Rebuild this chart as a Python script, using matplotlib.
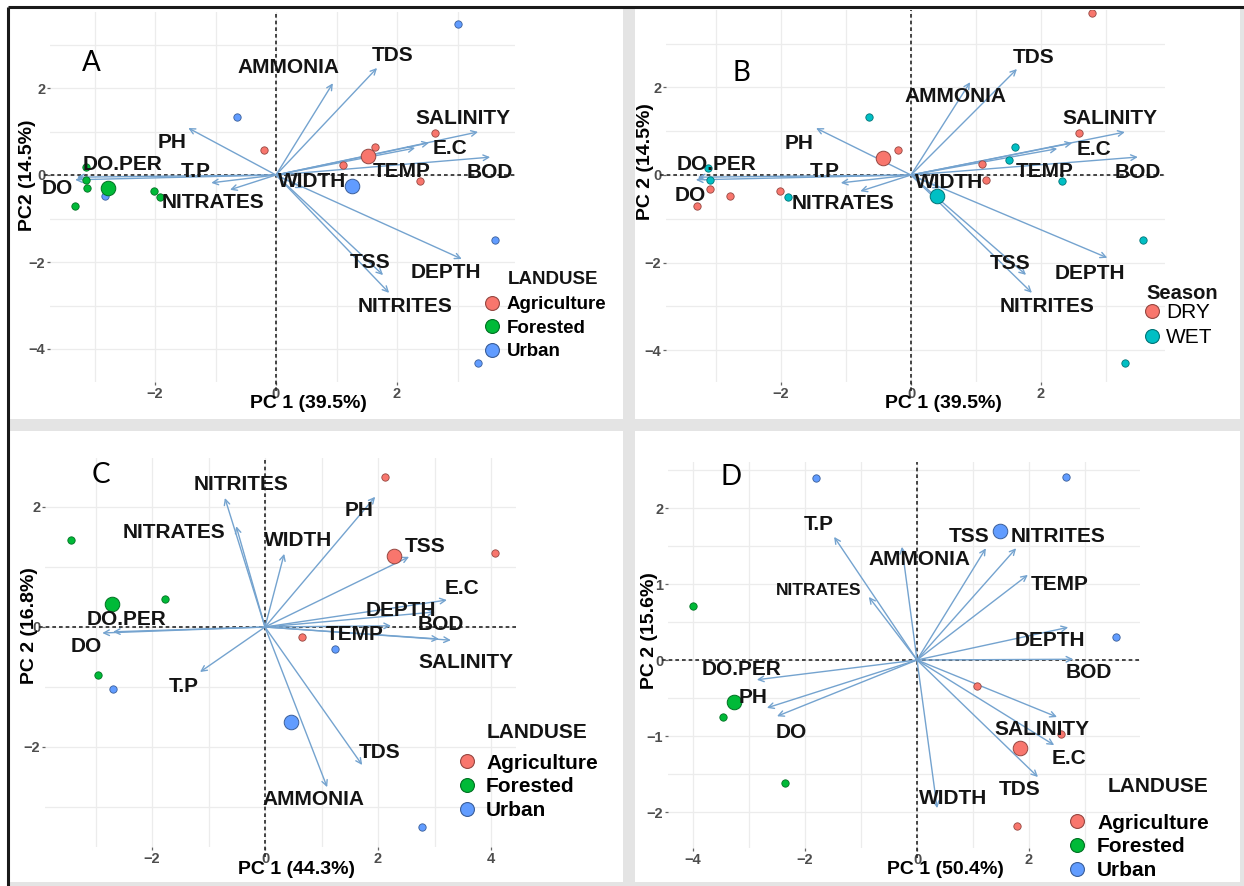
import matplotlib
matplotlib.use('Agg')
import matplotlib.pyplot as plt
import matplotlib.colors as mcolors
from matplotlib.lines import Line2D
from matplotlib.patches import Rectangle
import numpy as np

W, H = 1244, 886

# ---------------------------------------------------------------------------
# Loadings (arrow tips) and scores, one block per biplot
# ---------------------------------------------------------------------------
variables = ["AMMONIA", "TDS", "SALINITY", "E.C", "TEMP", "BOD", "WIDTH", "DEPTH",
             "TSS", "NITRITES", "PH", "T.P", "NITRATES", "DO", "DO.PER"]

# A : land use, PC1 x PC2
a_pc1 = [0.94, 1.67, 3.34, 2.53, 2.30, 3.54, 0.45, 3.07, 1.77, 1.87, -1.45, -1.07, -0.76, -3.32, -3.29]
a_pc2 = [2.11, 2.46, 0.99, 0.74, 0.62, 0.41, -0.30, -1.93, -2.30, -2.71, 1.08, -0.18, -0.34, -0.11, -0.05]
a_lab1 = [0.20, 1.93, 3.09, 2.88, 2.07, 3.54, 0.60, 2.81, 1.55, 2.13, -1.72, -1.32, -1.04, -3.62, -2.53]
a_lab2 = [2.46, 2.74, 1.29, 0.62, 0.07, 0.05, -0.16, -2.25, -2.02, -3.03, 0.74, 0.07, -0.64, -0.30, 0.23]
a_agri_x = [-0.20, 2.63, 1.64, 1.11, 2.38]
a_agri_y = [0.57, 0.97, 0.64, 0.23, -0.14]
a_fore_x = [-3.14, -3.14, -3.12, -3.32, -2.02, -1.92]
a_fore_y = [0.18, -0.11, -0.30, -0.71, -0.37, -0.51]
a_urb_x = [3.01, -0.64, -2.83, 3.62, 3.34]
a_urb_y = [3.47, 1.33, -0.48, -1.49, -4.32]
a_means = [(1.52, 0.44), (-2.78, -0.30), (1.26, -0.25)]

# B : season, PC1 x PC2
b_pc1 = [0.91, 1.63, 3.29, 2.48, 2.25, 3.49, 0.45, 3.02, 1.77, 1.86, -1.46, -1.08, -0.78, -3.31, -3.28]
b_pc2 = [2.12, 2.42, 0.98, 0.73, 0.60, 0.41, -0.30, -1.89, -2.28, -2.69, 1.07, -0.18, -0.37, -0.11, -0.05]
b_lab1 = [0.68, 1.89, 3.06, 2.82, 2.05, 3.49, 0.58, 2.75, 1.52, 2.09, -1.72, -1.32, -1.05, -3.40, -3.00]
b_lab2 = [1.80, 2.69, 1.30, 0.59, 0.07, 0.05, -0.16, -2.24, -2.03, -3.01, 0.73, 0.07, -0.64, -0.46, 0.23]
b_dry_x = [2.78, -0.20, 2.58, 1.09, 1.15, -3.09, -3.29, -2.78, -2.02]
b_dry_y = [3.70, 0.57, 0.96, 0.25, -0.11, -0.32, -0.71, -0.48, -0.37]
b_wet_x = [-0.65, 1.60, 1.51, 2.32, 3.57, 3.29, -3.12, -3.09, -1.89]
b_wet_y = [1.32, 0.64, 0.34, -0.14, -1.48, -4.29, 0.16, -0.11, -0.50]
b_means = [(-0.43, 0.39), (0.40, -0.48)]

# C : land use, second data set
c_pc1 = [1.10, 1.72, 3.29, 3.22, 2.23, 3.08, 0.34, 3.01, 2.55, -0.71, 1.95, -1.15, -0.51, -2.88, -2.69]
c_pc2 = [-2.67, -2.30, -0.22, 0.45, 0.02, -0.20, 1.22, 0.25, 1.17, 2.15, 2.17, -0.75, 1.68, -0.10, -0.08]
c_lab1 = [0.85, 2.02, 3.56, 3.49, 1.58, 3.12, 0.58, 2.41, 2.83, -0.42, 1.66, -1.43, -1.61, -3.17, -2.46]
c_lab2 = [-2.88, -2.10, -0.60, 0.65, -0.12, 0.05, 1.45, 0.27, 1.35, 2.37, 1.95, -1.00, 1.58, -0.33, 0.12]
c_agri_x = [2.12, 4.07, 0.65]
c_agri_y = [2.50, 1.23, -0.17]
c_fore_x = [-3.43, -1.77, -2.96]
c_fore_y = [1.45, 0.47, -0.80]
c_urb_x = [1.24, -2.69, 2.78]
c_urb_y = [-0.37, -1.03, -3.33]
c_means = [(2.28, 1.18), (-2.71, 0.38), (0.46, -1.58)]

# D : land use, third data set
d_pc1 = [-0.27, 2.16, 2.50, 2.45, 1.98, 2.79, 0.36, 2.70, 1.23, 1.77, -2.68, -1.48, -0.86, -2.50, -2.86]
d_pc2 = [1.49, -1.54, -0.75, -1.12, 1.12, 0.01, -1.95, 0.43, 1.47, 1.47, -0.63, 1.62, 0.83, -0.74, -0.26]
d_lab1 = [0.05, 1.84, 2.23, 2.71, 2.55, 3.07, 0.64, 2.38, 0.93, 2.52, -2.93, -1.75, -1.75, -2.25, -3.13]
d_lab2 = [1.32, -1.71, -0.91, -1.29, 1.00, -0.17, -1.82, 0.25, 1.62, 1.62, -0.49, 1.78, 0.92, -0.96, -0.12]
d_agri_x = [1.07, 2.57, 1.79]
d_agri_y = [-0.34, -0.97, -2.18]
d_fore_x = [-4.00, -3.46, -2.36]
d_fore_y = [0.71, -0.75, -1.62]
d_urb_x = [-1.80, 2.66, 3.55]
d_urb_y = [2.39, 2.41, 0.30]
d_means = [(1.84, -1.16), (-3.27, -0.55), (1.48, 1.70)]

landuse = ["Agriculture", "Forested", "Urban"]
season = ["DRY", "WET"]

# ---------------------------------------------------------------------------
# Styles
# ---------------------------------------------------------------------------
AGRI, FORE, URB = '#F8766D', '#00BA38', '#619CFF'
DRY, WET = '#F8766D', '#00BFC4'
ARROW = '#74a3cf'
GRID = '#ececec'
BAND = '#e4e4e4'
FONT = 'Liberation Sans'


def darker(c, f=0.6):
    r, g, b = mcolors.to_rgb(c)
    return (r * f, g * f, b * f)


fig = plt.figure(figsize=(W / 100, H / 100), dpi=100)
fig.patch.set_facecolor('white')

# background: black frame edges and grey separators between the four plots
bg = fig.add_axes([0, 0, 1, 1])
bg.set_xlim(0, W)
bg.set_ylim(H, 0)
bg.axis('off')
for x, y, w, h in [(623, 8, 12, H), (9, 419, W, 12), (1240, 8, 4, H), (9, 882, W, 4)]:
    bg.add_patch(Rectangle((x, y), w, h, color=BAND, lw=0))
bg.plot([8, 8], [7, H], color='#1a1a1a', lw=2.2, solid_capstyle='butt')
bg.plot([8, W], [7, 7], color='#1a1a1a', lw=2.2, solid_capstyle='butt')


def biplot(box, x0, sx, y0, sy, xticks, yticks, xgrid, ygrid,
           pc1, pc2, lab1, lab2, groups, means, colors, names,
           xlabel, ylabel, xlab_px, ylab_px, title, title_px, title_size,
           leg_px, leg_size, leg_pad, leg_space, leg_weight, letter, letter_px,
           small_labels=()):
    l, t, r, b = box
    ax = fig.add_axes([l / W, 1 - b / H, (r - l) / W, (b - t) / H])
    ax.set_facecolor('none')
    ax.set_xlim((l - x0) / sx, (r - x0) / sx)
    ax.set_ylim((y0 - b) / sy, (y0 - t) / sy)
    for s in ax.spines.values():
        s.set_visible(False)

    ax.set_xticks(xticks)
    ax.set_yticks(yticks)
    ax.set_xticks(xgrid, minor=True)
    ax.set_yticks(ygrid, minor=True)
    ax.grid(True, which='both', color=GRID, lw=0.9, zorder=0)
    ax.set_axisbelow(True)
    ax.tick_params(which='minor', length=0)
    ax.tick_params(which='major', length=2.5, width=0.9, color='#666666',
                   labelcolor='#4d4d4d', labelsize=10.5, pad=1)
    for tl in ax.get_xticklabels() + ax.get_yticklabels():
        tl.set_fontweight('bold')
        tl.set_family(FONT)

    # zero reference lines
    ax.axhline(0, xmin=-0.012, xmax=1, color='#262626', lw=1.2,
               ls=(0, (2.2, 1.8)), clip_on=False, zorder=1)
    ax.axvline(0, ymin=-0.025, ymax=1, color='#262626', lw=1.2,
               ls=(0, (2.2, 1.8)), clip_on=False, zorder=1)

    # group scores and group means
    for (gx, gy), col in zip(groups, colors):
        ax.scatter(gx, gy, s=28, color=col, edgecolors=[darker(col)],
                   linewidths=0.6, zorder=3)
    for (mx, my), col in zip(means, colors):
        ax.scatter(mx, my, s=110, color=col, edgecolors=[darker(col)],
                   linewidths=0.7, zorder=3)

    # variable loadings
    for x, y in zip(pc1, pc2):
        ax.annotate('', xy=(x, y), xytext=(0, 0),
                    arrowprops=dict(arrowstyle='->,head_length=0.4,head_width=0.2',
                                    color=ARROW, lw=1.0, shrinkA=0, shrinkB=0),
                    zorder=2)
    for name, x, y in zip(variables, lab1, lab2):
        ax.text(x, y, name, ha='center', va='center', family=FONT,
                fontsize=12.5 if name in small_labels else 15,
                fontweight='bold', color='#141414', zorder=4)

    ax.set_xlabel(xlabel, family=FONT, fontsize=14, fontweight='bold',
                  ha='center', va='center')
    ax.set_ylabel(ylabel, family=FONT, fontsize=14, fontweight='bold',
                  ha='center', va='center', rotation=90)
    ax.xaxis.set_label_coords((xlab_px[0] - l) / (r - l), (b - xlab_px[1]) / (b - t))
    ax.yaxis.set_label_coords((ylab_px[0] - l) / (r - l), (b - ylab_px[1]) / (b - t))

    handles = [Line2D([0], [0], marker='o', ls='', markersize=10,
                      markerfacecolor=c, markeredgecolor=darker(c),
                      markeredgewidth=0.8) for c in colors]
    ax.legend(handles, names, loc='center left',
              bbox_to_anchor=(leg_px[0] / W, 1 - leg_px[1] / H),
              bbox_transform=fig.transFigure, frameon=False,
              borderpad=0, borderaxespad=0, handlelength=0.8,
              handletextpad=leg_pad, labelspacing=leg_space,
              prop={'family': FONT, 'size': leg_size, 'weight': leg_weight})
    fig.text(title_px[0] / W, 1 - title_px[1] / H, title, ha='center', va='center',
             family=FONT, fontsize=title_size, fontweight='bold', color='#141414')
    fig.text(letter_px[0] / W, 1 - letter_px[1] / H, letter, ha='center', va='center',
             family='Lato', fontsize=20, color='black')
    return ax


biplot((50, 12, 515, 382), 276, 60.5, 175, 43.5,
       [-2, 0, 2], [-4, -2, 0, 2], np.arange(-3, 4), np.arange(-4, 4),
       a_pc1, a_pc2, a_lab1, a_lab2,
       [(a_agri_x, a_agri_y), (a_fore_x, a_fore_y), (a_urb_x, a_urb_y)],
       a_means, [AGRI, FORE, URB], landuse,
       "PC 1 (39.5%)", "PC2 (14.5%)", (308, 404), (28, 175),
       "LANDUSE", (553, 280), 13.5, (484, 328), 13.5, 0.4, 0.34, 'bold',
       "A", (91, 63))

biplot((666, 10, 1165, 382), 911, 65, 175, 43.8,
       [-2, 0, 2], [-4, -2, 0, 2], np.arange(-3, 4), np.arange(-4, 4),
       b_pc1, b_pc2, b_lab1, b_lab2,
       [(b_dry_x, b_dry_y), (b_wet_x, b_wet_y)],
       b_means, [DRY, WET], season,
       "PC 1 (39.5%)", "PC 2 (14.5%)", (943, 404), (646, 162),
       "Season", (1182, 293), 14.5, (1144, 325), 15, 0.25, 0.27, 'normal',
       "B", (741, 73))

biplot((45, 458, 516, 847), 265, 56.5, 627, 60,
       [-2, 0, 2, 4], [-2, 0, 2], np.arange(-3, 5), np.arange(-3, 3),
       c_pc1, c_pc2, c_lab1, c_lab2,
       [(c_agri_x, c_agri_y), (c_fore_x, c_fore_y), (c_urb_x, c_urb_y)],
       c_means, [AGRI, FORE, URB], landuse,
       "PC 1 (44.3%)", "PC 2 (16.8%)", (297, 870), (30, 626),
       "LANDUSE", (537, 733), 15, (459, 787), 15, 0.5, 0.23, 'bold',
       "C", (101, 475))

biplot((668, 462, 1140, 848), 917, 56, 660, 76,
       [-4, -2, 0, 2], [-2, -1, 0, 1, 2], np.arange(-4, 4), np.arange(-2, 2.6, 0.5),
       d_pc1, d_pc2, d_lab1, d_lab2,
       [(d_agri_x, d_agri_y), (d_fore_x, d_fore_y), (d_urb_x, d_urb_y)],
       d_means, [AGRI, FORE, URB], landuse,
       "PC 1 (50.4%)", "PC 2 (15.6%)", (945, 870), (650, 631),
       "LANDUSE", (1158, 786), 15, (1069, 847), 15, 0.55, 0.23, 'bold',
       "D", (731, 477), small_labels=("NITRATES",))

fig.savefig('out.png', dpi=100, facecolor='white')
